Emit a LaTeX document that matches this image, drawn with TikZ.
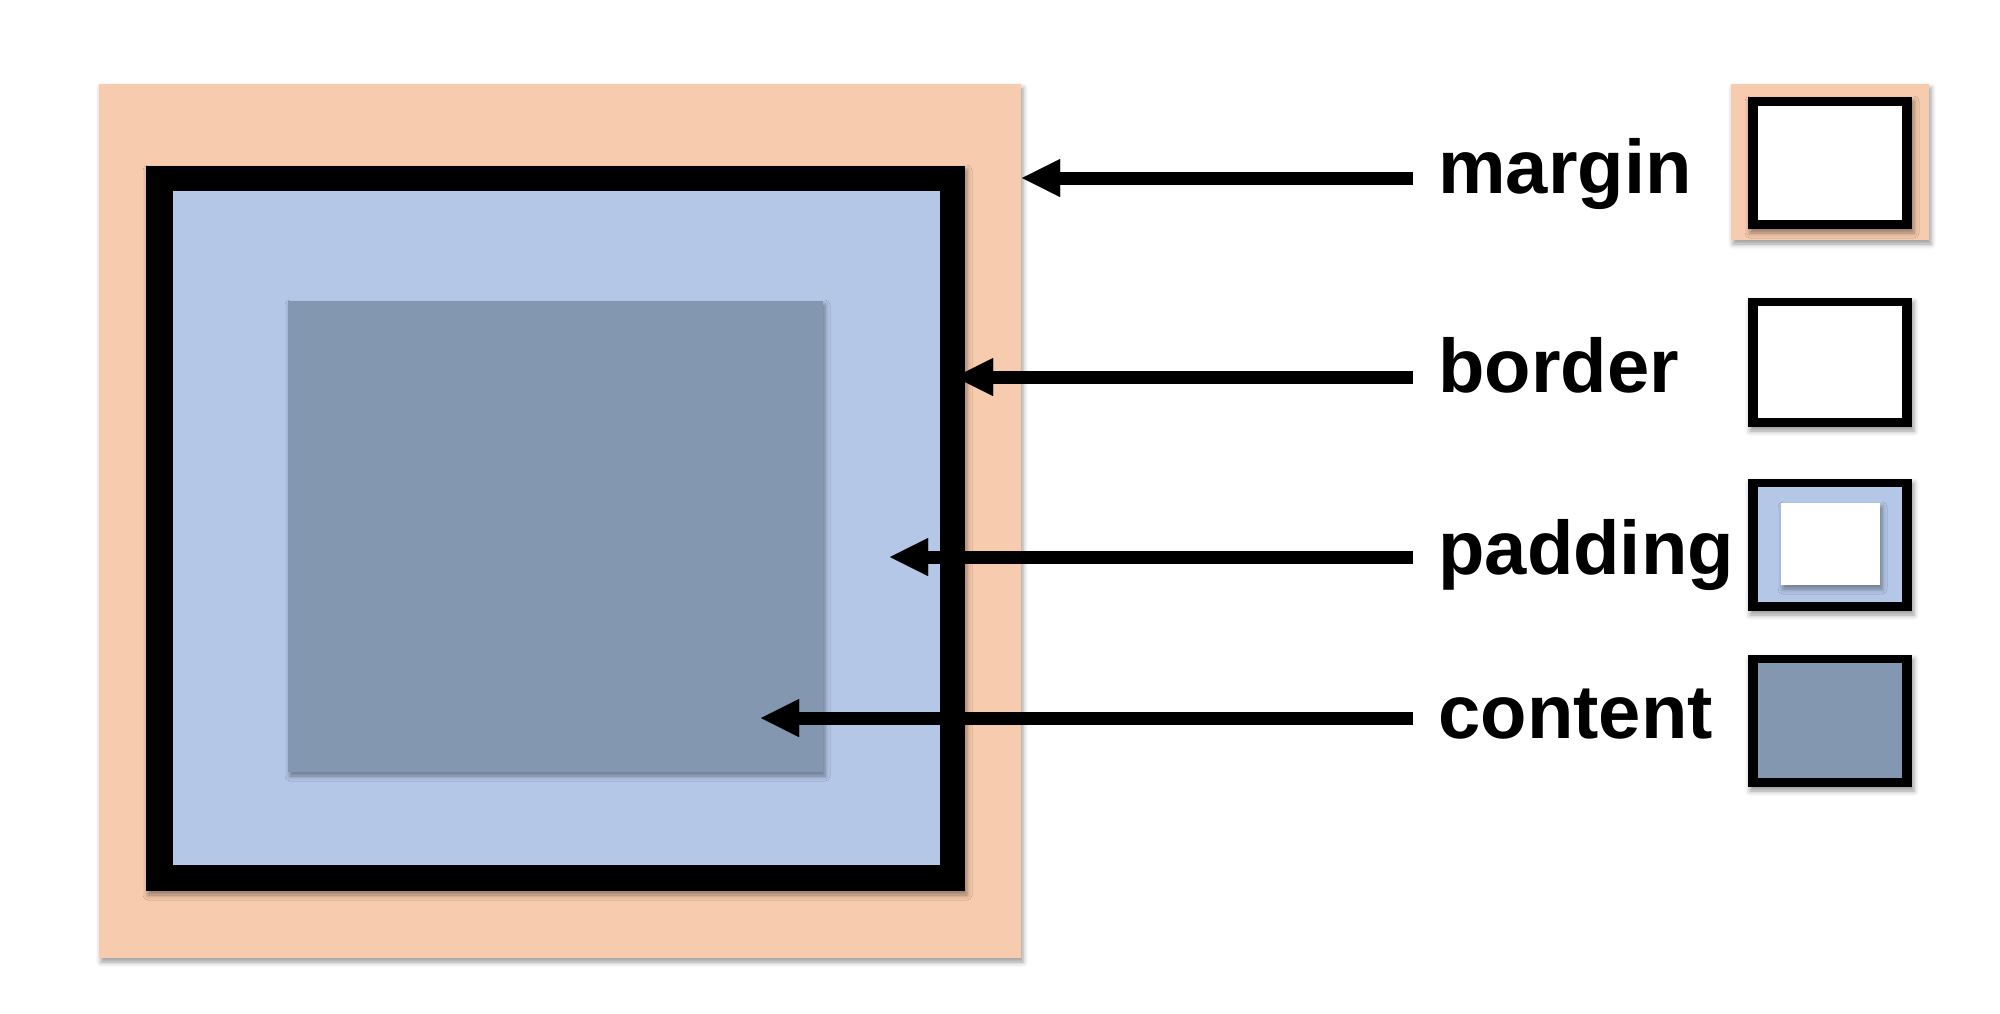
\documentclass[tikz,border=0pt]{standalone}
\usepackage{fontspec}
\setmainfont{Liberation Sans}
\usetikzlibrary{arrows.meta,shadows.blur}
\definecolor{marginc}{HTML}{F7CBAD}
\definecolor{paddingc}{HTML}{B4C7E7}
\definecolor{contentc}{HTML}{8497B0}
\tikzset{
  shd/.style={blur shadow={shadow xshift=1pt,shadow yshift=-2pt,shadow blur radius=2.5pt,shadow opacity=40}},
  lbl/.style={anchor=base west,inner sep=0pt,font=\fontsize{38}{45}\selectfont\bfseries},
  arr/.style={draw=black,line width=6.5pt,opacity=1,-{Triangle[length=19pt,width=19pt,line width=0.01pt,fill=black,color=black]}}
}
\begin{document}
\begin{tikzpicture}[x=0.5pt,y=-0.5pt]
\useasboundingbox (0,0) rectangle (2000,1013);
% main box model
\fill[marginc,shd] (99,84) rectangle (1021,958);
\fill[black,shd] (146,166) rectangle (965,891);
\fill[paddingc] (173,191) rectangle (940,865);
\fill[contentc,shd] (288,301) rectangle (823,772);
% legend
\fill[marginc,shd] (1731,84) rectangle (1929,240);
\fill[black,shd] (1748,97) rectangle (1912,229);
\fill[white] (1758,106) rectangle (1902,220);
\fill[black,shd] (1748,298) rectangle (1912,427);
\fill[white] (1758,306) rectangle (1902,418);
\fill[black,shd] (1748,479) rectangle (1912,611);
\fill[paddingc] (1758,487) rectangle (1902,602);
\fill[white,shd] (1781,503) rectangle (1880,585);
\fill[black,shd] (1748,655) rectangle (1912,787);
\fill[contentc] (1758,663) rectangle (1902,778);
% labels
\node[lbl] (lm) at (1438,193) {margin};
\node[lbl] (lb) at (1438,392) {border};
\node[lbl] (lp) at (1438,574) {padding};
\node[lbl] (lc) at (1438,738) {content};
% arrow endpoints
\coordinate (sm) at (1413,178); \coordinate (tm) at (1022,178);
\coordinate (sb) at (1413,377); \coordinate (tb) at (955,377);
\coordinate (sp) at (1413,557); \coordinate (tp) at (890,557);
\coordinate (sc) at (1413,718); \coordinate (tc) at (761,718);
\draw[arr] (sm) -- (tm);
\draw[arr] (sb) -- (tb);
\draw[arr] (sp) -- (tp);
\draw[arr] (sc) -- (tc);
\end{tikzpicture}
\end{document}
